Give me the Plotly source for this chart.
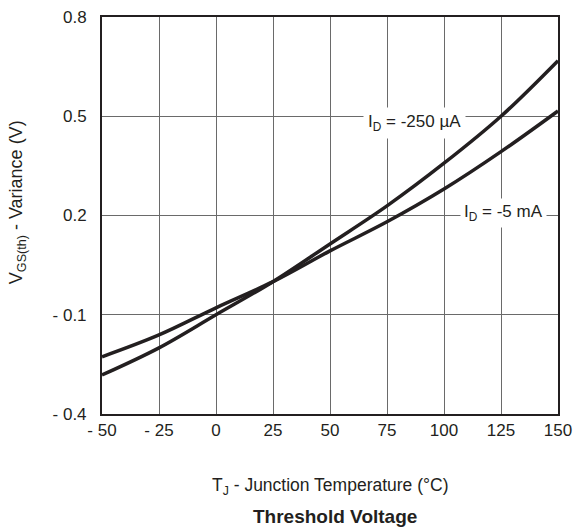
import plotly.graph_objects as go

# Data
temps = [-50, -25, 0, 25, 50, 75, 100, 125, 150]
v_250uA = [-0.282, -0.200, -0.100, 0.000, 0.114, 0.229, 0.358, 0.500, 0.668]
v_5mA = [-0.227, -0.161, -0.079, 0.000, 0.093, 0.181, 0.280, 0.393, 0.516]

x_ticks = [-50, -25, 0, 25, 50, 75, 100, 125, 150]
x_ticktext = ["- 50", "- 25", "0", "25", "50", "75", "100", "125", "150"]
y_ticks = [-0.4, -0.1, 0.2, 0.5, 0.8]
y_ticktext = ["- 0.4", "- 0.1", "0.2", "0.5", "0.8"]

line_color = "#231f20"
font_family = "Liberation Sans, Arial, Helvetica, sans-serif"

fig = go.Figure()
fig.add_trace(go.Scatter(x=temps, y=v_250uA, mode="lines",
                         line=dict(color=line_color, width=3.5, shape="spline"),
                         showlegend=False, hoverinfo="skip"))
fig.add_trace(go.Scatter(x=temps, y=v_5mA, mode="lines",
                         line=dict(color=line_color, width=3.5, shape="spline"),
                         showlegend=False, hoverinfo="skip"))

fig.add_annotation(x=87, y=0.481, xref="x", yref="y",
                   text="I<sub>D</sub> = -250 µA", showarrow=False,
                   bgcolor="white", borderpad=4,
                   font=dict(size=17, color=line_color, family=font_family))
fig.add_annotation(x=126.3, y=0.207, xref="x", yref="y",
                   text="I<sub>D</sub> = -5 mA", showarrow=False,
                   bgcolor="white", borderpad=3,
                   font=dict(size=17, color=line_color, family=font_family))

fig.add_annotation(x=0.5, y=-0.183, xref="paper", yref="paper",
                   text="T<sub>J</sub> - Junction Temperature (°C)", showarrow=False,
                   xanchor="center", yanchor="middle",
                   font=dict(size=17.5, color=line_color, family=font_family))
fig.add_annotation(x=0.51, y=-0.259, xref="paper", yref="paper",
                   text="<b>Threshold Voltage</b>", showarrow=False,
                   xanchor="center", yanchor="middle",
                   font=dict(size=19, color=line_color, family=font_family))
fig.add_annotation(x=-0.186, y=0.534, xref="paper", yref="paper",
                   text="V<sub>GS(th)</sub> - Variance (V)", showarrow=False,
                   textangle=-90, xanchor="center", yanchor="middle",
                   font=dict(size=18, color=line_color, family=font_family))

fig.update_xaxes(range=[-50, 150], tickvals=x_ticks, ticktext=x_ticktext,
                 showgrid=True, gridcolor="#6a6a6a", gridwidth=1,
                 showline=True, linecolor=line_color, linewidth=2, mirror=True,
                 zeroline=False, ticks="", ticklen=0, automargin=False,
                 tickfont=dict(size=17, color=line_color, family=font_family))
fig.update_yaxes(range=[-0.4, 0.8], tickvals=y_ticks, ticktext=y_ticktext,
                 showgrid=True, gridcolor="#6a6a6a", gridwidth=1,
                 showline=True, linecolor=line_color, linewidth=2, mirror=True,
                 zeroline=False, ticks="outside", ticklen=10, tickcolor="white",
                 automargin=False,
                 tickfont=dict(size=17, color=line_color, family=font_family))

fig.update_layout(width=573, height=530,
                  margin=dict(l=102, r=15, t=17, b=116),
                  plot_bgcolor="white", paper_bgcolor="white",
                  font=dict(family=font_family, color=line_color))

fig.write_html("out.html")
